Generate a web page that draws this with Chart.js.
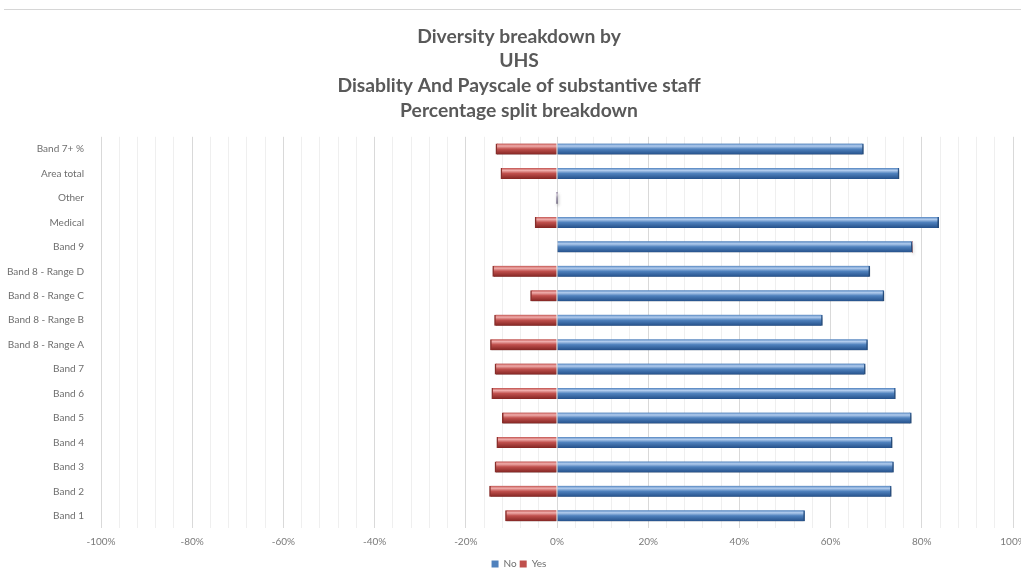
<!DOCTYPE html>
<html>
<head>
<meta charset="utf-8">
<script src="https://cdn.jsdelivr.net/npm/chart.js@4.4.1/dist/chart.umd.min.js"></script>
<style>
  html, body { margin: 0; padding: 0; background: #ffffff; overflow: hidden; }
  #wrap { position: relative; width: 1021px; height: 571px; overflow: hidden; }
  #topRule { position: absolute; left: 4px; right: 0; top: 9px; height: 0; border-top: 1px solid #d6d6d6; }
  canvas { position: absolute; left: 0; top: 0; }
</style>
</head>
<body>
<div id="wrap">
  <div id="topRule"></div>
  <canvas id="chart" width="1038" height="571"></canvas>
</div>
<script>
// Pay bands, listed top to bottom
const categories = [
  'Band 7+ %', 'Area total', 'Other', 'Medical', 'Band 9',
  'Band 8 - Range D', 'Band 8 - Range C', 'Band 8 - Range B', 'Band 8 - Range A',
  'Band 7', 'Band 6', 'Band 5', 'Band 4', 'Band 3', 'Band 2', 'Band 1'
];

// Percentage of substantive staff answering "No" (plotted right of zero)
const noValues = [67.2, 75.0, 0, 83.7, 77.9, 68.6, 71.7, 58.2, 68.1, 67.6, 74.2, 77.7, 73.5, 73.8, 73.3, 54.3];

// Percentage answering "Yes" (plotted left of zero, hence negative)
const yesValues = [-13.4, -12.3, 0, -4.8, 0, -14.1, -5.8, -13.7, -14.6, -13.6, -14.3, -12.0, -13.2, -13.6, -14.8, -11.3];

// Axis tick labels every 20%
const tickLabels = ['-100%', '-80%', '-60%', '-40%', '-20%', '0%', '20%', '40%', '60%', '80%', '100%'];

const titleLines = [
  'Diversity breakdown by',
  'UHS',
  'Disablity And Payscale of substantive staff',
  'Percentage split breakdown'
];

const BAR = 11;

// Tube-like shading for each bar: highlight near the top, darker underside
function tubeFill(light, mid, dark) {
  return function (c) {
    const chart = c.chart;
    if (c.type !== 'data' || !chart.chartArea) return mid;
    const y = chart.scales.y.getPixelForValue(c.dataIndex);
    const g = chart.ctx.createLinearGradient(0, y - BAR / 2, 0, y + BAR / 2);
    g.addColorStop(0, mid);
    g.addColorStop(0.22, light);
    g.addColorStop(0.5, mid);
    g.addColorStop(1, dark);
    return g;
  };
}

const solid = { 'No': '#4f81bd', 'Yes': '#c0504d' };

const barShadow = {
  id: 'barShadow',
  beforeDatasetsDraw(chart) {
    const ctx = chart.ctx;
    ctx.save();
    ctx.shadowColor = 'rgba(0,0,0,0.35)';
    ctx.shadowBlur = 3;
    ctx.shadowOffsetX = 1;
    ctx.shadowOffsetY = 2;
  },
  afterDatasetsDraw(chart) {
    chart.ctx.restore();
  }
};

// Let the long category names run past the left edge of the axis box
const unclipCategoryLabels = {
  id: 'unclipCategoryLabels',
  beforeDraw(chart) {
    chart.scales.y._computeLabelArea = () => undefined;
  }
};

new Chart(document.getElementById('chart'), {
  type: 'bar',
  data: {
    labels: categories,
    datasets: [
      {
        label: 'No',
        data: noValues,
        backgroundColor: tubeFill('#b3cdee', '#4f81bd', '#24508a'),
        borderColor: '#2f5d96',
        borderWidth: { top: 0, bottom: 0, left: 0, right: 1.5 },
        barThickness: BAR,
        borderSkipped: false
      },
      {
        label: 'Yes',
        data: yesValues,
        backgroundColor: tubeFill('#f0aeac', '#c0504d', '#832522'),
        borderColor: '#8f302d',
        borderWidth: { top: 0, bottom: 0, left: 1.5, right: 0 },
        barThickness: BAR,
        borderSkipped: false
      }
    ]
  },
  options: {
    indexAxis: 'y',
    responsive: false,
    animation: false,
    layout: { padding: { left: 25, right: 25, top: 0, bottom: -8 } },
    scales: {
      x: {
        stacked: true,
        min: -100,
        max: 100,
        border: { display: false },
        grid: {
          drawTicks: false,
          color: (c) => (Math.round(c.tick.value) % 20 === 0 ? '#d9d9d9' : '#efefef'),
          lineWidth: 1
        },
        ticks: {
          stepSize: 4,
          autoSkip: false,
          maxRotation: 0,
          padding: 8,
          color: '#7a7a7a',
          font: { family: 'Lato', size: 10 },
          callback: (v) => {
            const r = Math.round(v);
            if (r % 20 !== 0) return '';
            return tickLabels[(r + 100) / 20];
          }
        },
        afterFit(scale) {
          scale.paddingLeft = 0;
          scale.paddingRight = 0;
        }
      },
      y: {
        stacked: true,
        border: { display: false },
        grid: { display: false, drawTicks: false },
        ticks: {
          padding: 17,
          color: '#6e6e6e',
          font: { family: 'Lato', size: 10 }
        },
        afterFit(scale) {
          scale.width = 76;
        }
      }
    },
    plugins: {
      title: {
        display: true,
        text: titleLines,
        color: '#595959',
        font: { family: 'Lato', size: 19.3, weight: 'bold', lineHeight: 1.28 },
        padding: { top: 24, bottom: 14 }
      },
      legend: {
        position: 'bottom',
        labels: {
          boxWidth: 7,
          boxHeight: 7,
          padding: 3,
          color: '#6e6e6e',
          font: { family: 'Lato', size: 10 },
          generateLabels(chart) {
            const items = Chart.defaults.plugins.legend.labels.generateLabels(chart);
            items.forEach((it) => {
              it.fillStyle = solid[it.text];
              it.strokeStyle = solid[it.text];
              it.lineWidth = 0;
            });
            return items;
          }
        }
      },
      tooltip: { enabled: false }
    }
  },
  plugins: [barShadow, unclipCategoryLabels]
});
</script>
</body>
</html>
